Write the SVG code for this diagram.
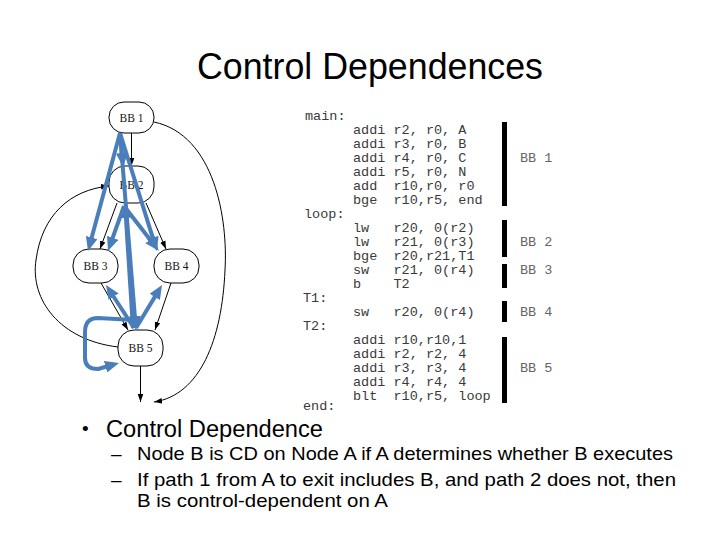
<svg xmlns="http://www.w3.org/2000/svg" width="720" height="540" viewBox="0 0 720 540">
<style>
.node rect{fill:#fff;stroke:#000;stroke-width:1}
.node text{font-family:"Liberation Serif",serif;font-size:11.5px;fill:#111;text-anchor:middle}
.edge{fill:none;stroke:#000;stroke-width:1;marker-end:url(#ah)}
.blue{fill:none;stroke:#4A7EBB;stroke-width:4;stroke-linejoin:round;marker-end:url(#bh)}
.code{font-family:"Liberation Mono",monospace;font-size:13.5px;fill:#3a3a3a;white-space:pre}
.lbl{font-family:"Liberation Mono",monospace;font-size:13.5px;fill:#666;white-space:pre}
.bar{fill:#000}
.txt{font-family:"Liberation Sans",Arial,sans-serif;fill:#000}
</style>
<defs>
<marker id="ah" markerUnits="userSpaceOnUse" markerWidth="8" markerHeight="7" viewBox="0 0 10 7" refX="10" refY="3.5" orient="auto"><path d="M0,0 L10,3.5 L0,7 z" fill="#000"/></marker>
<marker id="bh" markerUnits="userSpaceOnUse" markerWidth="14" markerHeight="12" viewBox="0 0 14 12" refX="8" refY="6" orient="auto"><path d="M0,0 L14,6 L0,12 z" fill="#4A7EBB"/></marker>
</defs>
<rect width="720" height="540" fill="#fff"/>
<text class="txt" x="197" y="79" font-size="36" textLength="346" lengthAdjust="spacingAndGlyphs">Control Dependences</text>

<g id="connectors">
<path class="edge" d="M131.5 133 L131.5 166"/>
<path class="edge" d="M117 203 L100 249"/>
<path class="edge" d="M146 203 L166 249"/>
<path class="edge" d="M101 283 L128 330"/>
<path class="edge" d="M171 283 L155 330"/>
<path class="edge" d="M140.5 366 L140.5 402"/>
<path class="edge" d="M118 347 C60 340 30 300 36 260 C42 215 70 190 109 186"/>
<path class="edge" d="M154 122 C215 135 228 220 225 270 C222 340 200 395 154 402"/>
</g>

<g id="node-bb1" class="node"><rect x="109" y="102" width="45" height="31" rx="15" ry="15"/><text x="131.5" y="121.5">BB 1</text></g>
<g id="node-bb2" class="node"><rect x="109" y="166" width="45" height="37" rx="16" ry="16"/><text x="131.5" y="188.5">BB 2</text></g>
<g id="node-bb3" class="node"><rect x="73" y="249" width="45" height="34" rx="16" ry="16"/><text x="95.5" y="270">BB 3</text></g>
<g id="node-bb4" class="node"><rect x="154" y="249" width="45" height="34" rx="16" ry="16"/><text x="176.5" y="270">BB 4</text></g>
<g id="node-bb5" class="node"><rect x="118" y="330" width="45" height="36" rx="16" ry="16"/><text x="140.5" y="352">BB 5</text></g>

<g id="control-dependences">
<path class="blue" d="M120 133 L122.6 161"/>
<path class="blue" d="M120 133 L89.6 245.2"/>
<path class="blue" d="M120 133 L155.2 245.3"/>
<path class="blue" d="M120 133 L135.5 324"/>
<path class="blue" d="M124 206 L110 245.3"/>
<path class="blue" d="M124 206 L155 246"/>
<path class="blue" d="M133 328 L125.4 210"/>
<path class="blue" d="M134 328 L109.3 290"/>
<path class="blue" d="M136 328 L158.9 290.1"/>
<path class="blue" d="M134 320 L98 318 Q85 318 85 332 L85 358 Q85 369 98 369 L113.2 364.6"/>
</g>

<g id="code">
<text class="code" x="305" y="119.5">main:</text>
<text class="code" x="353" y="133.5">addi r2, r0, A</text>
<text class="code" x="353" y="147.5">addi r3, r0, B</text>
<text class="code" x="353" y="161.5">addi r4, r0, C</text>
<text class="code" x="353" y="175.5">addi r5, r0, N</text>
<text class="code" x="353" y="189.5">add  r10,r0, r0</text>
<text class="code" x="353" y="203.5">bge  r10,r5, end</text>
<text class="code" x="304" y="217.5">loop:</text>
<text class="code" x="353" y="231.5">lw   r20, 0(r2)</text>
<text class="code" x="353" y="245.5">lw   r21, 0(r3)</text>
<text class="code" x="353" y="259.5">bge  r20,r21,T1</text>
<text class="code" x="353" y="273.5">sw   r21, 0(r4)</text>
<text class="code" x="353" y="287.5">b    T2</text>
<text class="code" x="303" y="301.5">T1:</text>
<text class="code" x="353" y="315.5">sw   r20, 0(r4)</text>
<text class="code" x="303" y="329.5">T2:</text>
<text class="code" x="353" y="343.5">addi r10,r10,1</text>
<text class="code" x="353" y="357.5">addi r2, r2, 4</text>
<text class="code" x="353" y="371.5">addi r3, r3, 4</text>
<text class="code" x="353" y="385.5">addi r4, r4, 4</text>
<text class="code" x="353" y="399.5">blt  r10,r5, loop</text>
<text class="code" x="303" y="410" font-size="12.5">end:</text>
</g>

<g id="blocks">
<rect class="bar" x="502" y="122" width="5" height="84"/>
<rect class="bar" x="502" y="220" width="5" height="37"/>
<rect class="bar" x="502" y="264" width="5" height="24"/>
<rect class="bar" x="502" y="301" width="5" height="21"/>
<rect class="bar" x="502" y="337" width="5" height="66"/>
<text class="lbl" x="520" y="161.5">BB 1</text>
<text class="lbl" x="520" y="245.5">BB 2</text>
<text class="lbl" x="520" y="273.5">BB 3</text>
<text class="lbl" x="520" y="315.5">BB 4</text>
<text class="lbl" x="520" y="371.5">BB 5</text>
</g>

<g id="bullets">
<text class="txt" x="82" y="435" font-size="19">•</text>
<text class="txt" x="106" y="437" font-size="23" textLength="217" lengthAdjust="spacingAndGlyphs">Control Dependence</text>
<text class="txt" x="111" y="460" font-size="19">–</text>
<text class="txt" x="137" y="460" font-size="19" textLength="536" lengthAdjust="spacingAndGlyphs">Node B is CD on Node A if A determines whether B executes</text>
<text class="txt" x="111" y="486" font-size="19">–</text>
<text class="txt" x="137" y="486" font-size="19" textLength="539" lengthAdjust="spacingAndGlyphs">If path 1 from A to exit includes B, and path 2 does not, then</text>
<text class="txt" x="137" y="507" font-size="19" textLength="251" lengthAdjust="spacingAndGlyphs">B is control-dependent on A</text>
</g>
</svg>
